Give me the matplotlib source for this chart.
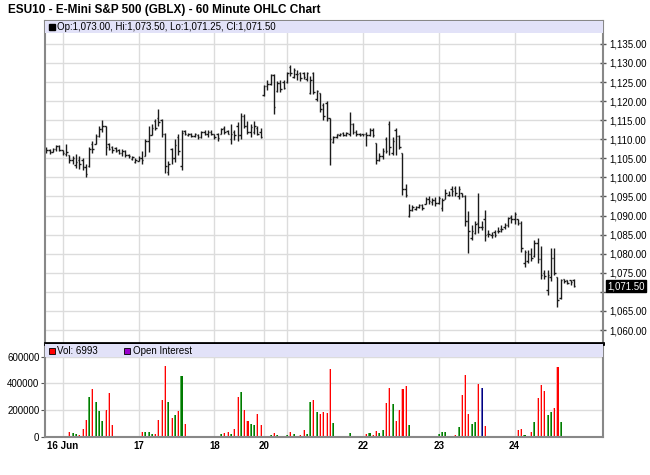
import matplotlib
matplotlib.use("Agg")
import matplotlib.pyplot as plt
import matplotlib.transforms as mtransforms
from matplotlib.patches import Rectangle
import numpy as np

plt.rcParams['font.family'] = ['Liberation Sans', 'DejaVu Sans']

# hourly OHLC bars (ESU10), oldest first
opens = [
    1107.0, 1107.25, 1106.75, 1107.5, 1108.25, 1107.25, 1106.25, 1106.0, 1104.5, 1103.25,
    1104.5, 1104.5, 1102.75, 1103.0, 1108.75, 1108.75, 1110.75, 1112.75, 1113.5, 1108.75,
    1108.0, 1107.75, 1107.25, 1106.5, 1107.0, 1105.75, 1104.75, 1104.0, 1104.25, 1105.0,
    1105.5, 1109.5, 1111.0, 1114.75, 1115.5, 1115.0, 1111.5, 1101.5, 1107.5, 1105.0,
    1110.5, 1103.0, 1112.25, 1111.0, 1111.5, 1110.75, 1111.0, 1110.5, 1112.0, 1111.5,
    1112.0, 1111.25, 1111.5, 1111.5, 1113.0, 1112.25, 1110.0, 1112.0, 1113.5, 1111.0,
    1116.0, 1113.5, 1112.0, 1112.0, 1113.0, 1112.0, 1121.5, 1124.0, 1124.5, 1126.75,
    1122.75, 1124.75, 1125.0, 1125.0, 1129.0, 1126.25, 1127.0, 1127.5, 1127.5, 1125.75,
    1122.0, 1127.5, 1120.5, 1122.0, 1119.0, 1119.5, 1115.5, 1109.25, 1110.5, 1111.0,
    1111.75, 1111.0, 1111.25, 1114.0, 1112.0, 1111.5, 1111.5, 1111.5, 1111.0, 1112.5,
    1109.0, 1104.5, 1105.5, 1110.0, 1114.0, 1106.5, 1112.5, 1110.75, 1106.5, 1097.0,
    1090.0, 1091.5, 1091.75, 1092.25, 1092.75, 1093.0, 1094.25, 1093.5, 1094.0, 1093.25,
    1092.0, 1094.25, 1095.5, 1097.0, 1097.25, 1095.0, 1096.0, 1095.25, 1088.5, 1084.0,
    1085.5, 1088.0, 1087.0, 1089.0, 1085.25, 1085.0, 1085.75, 1086.0, 1086.5, 1087.0,
    1087.5, 1089.5, 1089.0, 1089.0, 1088.0, 1077.5, 1078.0, 1080.0, 1079.5, 1082.75,
    1078.5, 1075.0, 1070.5, 1074.0, 1079.0, 1074.0, 1068.5, 1073.25, 1073.0, 1073.0,
    1073.0,
]
highs = [
    1108.0, 1107.5, 1107.75, 1108.5, 1108.5, 1107.25, 1108.75, 1106.0, 1105.5, 1106.25,
    1105.5, 1105.0, 1103.5, 1108.0, 1109.5, 1111.25, 1113.5, 1115.0, 1113.5, 1109.0,
    1108.25, 1108.0, 1107.5, 1107.5, 1107.25, 1106.25, 1105.5, 1105.0, 1105.5, 1107.0,
    1110.0, 1113.5, 1114.0, 1115.25, 1118.0, 1115.25, 1111.75, 1104.25, 1107.75, 1110.0,
    1111.25, 1112.5, 1112.5, 1111.75, 1111.75, 1111.75, 1111.25, 1112.25, 1112.5, 1112.5,
    1112.5, 1111.5, 1111.75, 1113.0, 1113.5, 1112.5, 1114.0, 1112.5, 1114.5, 1117.0,
    1116.5, 1114.75, 1114.0, 1114.75, 1113.5, 1113.0, 1124.25, 1125.5, 1127.0, 1127.0,
    1125.25, 1125.5, 1125.5, 1127.75, 1129.5, 1128.75, 1128.25, 1127.75, 1127.75, 1127.75,
    1126.5, 1127.75, 1123.0, 1122.0, 1119.5, 1120.0, 1115.5, 1110.75, 1111.5, 1111.75,
    1112.0, 1112.0, 1117.25, 1114.25, 1112.5, 1111.75, 1111.5, 1112.0, 1113.0, 1113.0,
    1109.0, 1106.5, 1107.75, 1110.5, 1114.75, 1110.5, 1113.0, 1111.0, 1106.5, 1098.25,
    1093.0, 1092.75, 1092.5, 1093.0, 1093.0, 1094.75, 1095.0, 1094.5, 1094.75, 1095.0,
    1094.5, 1097.0, 1096.5, 1097.75, 1097.75, 1097.75, 1096.0, 1095.5, 1091.25, 1087.5,
    1088.5, 1096.0, 1088.5, 1091.5, 1086.25, 1085.75, 1086.25, 1087.0, 1087.5, 1088.0,
    1089.75, 1090.25, 1091.0, 1089.0, 1088.5, 1081.0, 1081.0, 1081.5, 1083.5, 1084.0,
    1082.0, 1075.75, 1075.75, 1081.5, 1081.5, 1074.0, 1073.5, 1073.5, 1073.0, 1073.0,
    1073.5,
]
lows = [
    1106.5, 1106.25, 1106.75, 1107.0, 1107.0, 1105.75, 1105.5, 1103.75, 1103.5, 1102.5,
    1102.25, 1102.0, 1100.0, 1102.75, 1106.5, 1108.75, 1110.5, 1112.0, 1106.0, 1107.25,
    1106.5, 1106.75, 1106.25, 1105.5, 1105.25, 1105.0, 1104.5, 1103.75, 1104.25, 1103.5,
    1105.5, 1106.75, 1111.0, 1112.5, 1113.5, 1110.5, 1101.25, 1100.75, 1103.5, 1104.0,
    1106.0, 1102.0, 1111.0, 1110.75, 1110.5, 1110.5, 1110.0, 1110.25, 1111.0, 1110.5,
    1111.0, 1110.0, 1109.5, 1111.25, 1111.5, 1111.25, 1108.75, 1109.75, 1109.5, 1110.0,
    1113.0, 1111.25, 1110.5, 1111.25, 1111.0, 1110.25, 1121.25, 1123.0, 1124.25, 1116.5,
    1122.5, 1122.5, 1123.25, 1124.75, 1126.5, 1126.0, 1125.5, 1125.25, 1125.75, 1125.25,
    1121.75, 1121.75, 1120.0, 1117.25, 1115.0, 1114.75, 1103.25, 1109.0, 1110.25, 1110.75,
    1110.75, 1110.75, 1110.75, 1111.5, 1110.75, 1110.75, 1110.75, 1108.25, 1110.75, 1110.5,
    1103.5, 1104.25, 1104.75, 1106.5, 1106.0, 1106.0, 1106.0, 1107.5, 1095.5, 1094.75,
    1089.5, 1091.25, 1091.5, 1092.0, 1091.5, 1093.0, 1093.0, 1092.75, 1092.5, 1093.0,
    1091.25, 1094.25, 1095.0, 1095.0, 1095.0, 1094.25, 1094.75, 1087.25, 1080.25, 1083.5,
    1085.25, 1085.5, 1086.25, 1083.25, 1084.5, 1084.0, 1084.5, 1085.5, 1085.75, 1086.5,
    1087.0, 1088.0, 1087.75, 1087.5, 1080.5, 1076.5, 1077.5, 1078.0, 1079.25, 1077.5,
    1073.5, 1073.5, 1069.25, 1072.75, 1074.5, 1066.0, 1068.25, 1072.25, 1072.0, 1071.75,
    1071.25,
]
closes = [
    1107.25, 1106.75, 1107.5, 1108.25, 1107.25, 1106.5, 1106.75, 1104.5, 1105.0, 1104.0,
    1103.5, 1102.75, 1101.0, 1107.5, 1107.5, 1110.75, 1112.75, 1113.5, 1108.0, 1107.5,
    1107.25, 1107.0, 1106.5, 1107.0, 1105.75, 1105.5, 1105.25, 1104.5, 1105.0, 1104.5,
    1109.5, 1111.0, 1113.0, 1113.0, 1114.5, 1111.5, 1103.0, 1103.5, 1105.0, 1108.5,
    1107.0, 1111.75, 1111.25, 1111.5, 1110.75, 1111.25, 1110.5, 1112.0, 1111.5, 1112.0,
    1111.25, 1110.5, 1110.25, 1112.75, 1112.0, 1111.5, 1111.5, 1111.0, 1111.0, 1116.0,
    1113.5, 1112.0, 1113.25, 1113.5, 1111.5, 1110.5, 1124.0, 1124.5, 1126.75, 1118.5,
    1124.75, 1123.25, 1123.5, 1127.25, 1127.5, 1128.25, 1127.0, 1126.0, 1126.25, 1127.25,
    1125.5, 1122.5, 1122.75, 1118.0, 1116.0, 1115.5, 1110.0, 1110.5, 1111.25, 1111.5,
    1111.0, 1111.75, 1114.0, 1112.0, 1111.25, 1111.0, 1111.25, 1111.0, 1112.5, 1111.0,
    1104.5, 1105.5, 1107.0, 1107.0, 1108.0, 1109.5, 1110.75, 1108.0, 1097.0, 1095.5,
    1091.5, 1092.25, 1092.25, 1092.75, 1092.0, 1094.25, 1093.75, 1094.0, 1093.25, 1094.5,
    1094.0, 1096.0, 1095.5, 1096.5, 1096.0, 1097.0, 1095.25, 1088.5, 1086.0, 1086.0,
    1087.75, 1087.0, 1087.0, 1085.0, 1085.25, 1085.0, 1085.0, 1086.0, 1086.5, 1087.5,
    1089.25, 1089.0, 1090.5, 1088.0, 1081.5, 1080.5, 1080.0, 1079.0, 1082.75, 1078.5,
    1074.5, 1074.25, 1074.5, 1079.0, 1075.0, 1068.0, 1073.0, 1072.75, 1072.25, 1072.5,
    1071.5,
]
volumes = [
    1500, 1200, 1500, 2000, 2500, 10000, 10000, 37000, 30000, 25000,
    17000, 60000, 129000, 297000, 360000, 258000, 191000, 121000, 203000, 327000,
    92000, 8000, 8000, 8000, 8000, 5000, 5000, 8000, 8000, 37000,
    40000, 40000, 25000, 25000, 129000, 278000, 528000, 260000, 139000, 161000,
    196000, 458000, 99000, 6000, 5000, 5000, 6000, 5000, 4000, 5000,
    6000, 10000, 10000, 22000, 27000, 37000, 25000, 60000, 297000, 335000,
    198000, 121000, 99000, 92000, 169000, 92000, 5000, 5000, 15000, 30000,
    12000, 5000, 5000, 12000, 37000, 22000, 10000, 15000, 55000, 20000,
    263000, 278000, 183000, 175000, 185000, 180000, 505000, 104000, 8000, 5000,
    8000, 8000, 30000, 5000, 5000, 5000, 5000, 22000, 30000, 12000,
    47000, 30000, 55000, 253000, 364000, 245000, 121000, 203000, 362000, 382000,
    92000, 4000, 4000, 5000, 5000, 5000, 5000, 5000, 5000, 22000,
    37000, 37000, 10000, 10000, 12000, 72000, 315000, 461000, 171000, 99000,
    114000, 394000, 369000, 84000, 3000, 3000, 3000, 4000, 4000, 4000,
    4000, 3000, 4000, 55000, 60000, 15000, 10000, 37000, 114000, 293000,
    389000, 340000, 166000, 188000, 216000, 526000, 114000, 3000, 5000, 5000,
    6993,
]

# first bar of each session day
day_starts = [5, 28, 51, 66, 73, 96, 119, 142]
day_labels = ['16 Jun', '17', '18', '20', '', '22', '23', '24']

price_ticks = list(range(1060, 1140, 5))
vol_ticks = [0, 200000, 400000, 600000]

idx = np.arange(len(closes))
o = np.array(opens)
c = np.array(closes)

fig = plt.figure(figsize=(6.5, 4.75), dpi=100)
fig.patch.set_facecolor('white')

ax = fig.add_axes([0.0692, 0.2779, 0.8585, 0.6779])
axv = fig.add_axes([0.0692, 0.08, 0.8585, 0.1958], sharex=ax)

grid_col = '#dcdcdc'
bar_col = '#1a1a1a'

# price panel
ax.vlines(idx, lows, highs, color=bar_col, lw=1.0)
ax.hlines(opens, idx - 0.45, idx, color=bar_col, lw=1.0)
ax.hlines(closes, idx, idx + 0.45, color=bar_col, lw=1.0)

ax.set_xlim(-0.4, 168.8)
ax.set_ylim(1056.6, 1141.0)
ax.set_yticks(price_ticks)
ax.set_yticklabels(['' if t == 1070 else f'{t:,.2f}' for t in price_ticks])
ax.yaxis.tick_right()
ax.tick_params(axis='y', direction='inout', length=5, width=1, color='#555555',
               labelsize=7, pad=2)
ax.tick_params(axis='x', length=0, labelbottom=False)
ax.set_xticks(day_starts)
ax.grid(True, color=grid_col, lw=1)
ax.set_axisbelow(True)
for s in ['left', 'right', 'top']:
    ax.spines[s].set_color('#888888')
    ax.spines[s].set_linewidth(1.5)
ax.spines['bottom'].set_color('black')
ax.spines['bottom'].set_linewidth(2)

# legend band on price panel
ax.add_patch(Rectangle((0, 0.963), 1, 0.037, transform=ax.transAxes,
                       facecolor='#e2e2f8', edgecolor='none', zorder=3))
ax.plot([0.012], [0.9815], marker='s', ms=5, color='black', mec='black',
        transform=ax.transAxes, zorder=4, clip_on=False)
ax.text(0.022, 0.9815, 'Op:1,073.00, Hi:1,073.50, Lo:1,071.25, Cl:1,071.50',
        transform=ax.transAxes, fontsize=7, va='center', ha='left', zorder=4)

# last price tag
trans = mtransforms.blended_transform_factory(ax.transAxes, ax.transData)
ax.text(1.008, closes[-1], f'{closes[-1]:,.2f}', transform=trans, fontsize=7,
        color='white', va='center', ha='left',
        bbox=dict(boxstyle='square,pad=0.12', facecolor='black', edgecolor='black'))

# volume panel
base_cols = np.where(c > o, '#007a00', np.where(c < o, '#ff0000', '#000080'))
light_cols = np.where(c > o, '#55b055', np.where(c < o, '#ffaaaa', '#6666bb'))
axv.bar(idx, volumes, width=0.62, color=base_cols, linewidth=0)
axv.bar(idx - 0.16, volumes, width=0.3, color=light_cols, linewidth=0)

axv.set_ylim(0, 694500)
axv.set_yticks(vol_ticks)
axv.set_yticklabels([str(v) for v in vol_ticks])
axv.tick_params(axis='y', direction='out', length=3, color='#555555', labelsize=7, pad=1)
axv.set_xticks(day_starts)
axv.set_xticklabels(day_labels, fontsize=7, fontweight='bold')
axv.tick_params(axis='x', length=0, pad=3)
axv.grid(True, color=grid_col, lw=1)
axv.set_axisbelow(True)
for s in ['left', 'right', 'bottom']:
    axv.spines[s].set_color('#888888')
    axv.spines[s].set_linewidth(1.5)
axv.spines['top'].set_color('black')
axv.spines['top'].set_linewidth(2)

axv.add_patch(Rectangle((0, 0.86), 1, 0.14, transform=axv.transAxes,
                        facecolor='#e2e2f8', edgecolor='none', zorder=3))
axv.plot([0.012], [0.93], marker='s', ms=5, color='#ff0000', mec='black',
         mew=0.6, transform=axv.transAxes, zorder=4)
axv.text(0.022, 0.93, 'Vol: 6993', transform=axv.transAxes, fontsize=7,
         va='center', ha='left', zorder=4)
axv.plot([0.147], [0.93], marker='s', ms=5, color='#9900cc', mec='black',
         mew=0.6, transform=axv.transAxes, zorder=4)
axv.text(0.157, 0.93, 'Open Interest', transform=axv.transAxes, fontsize=7,
         va='center', ha='left', zorder=4)

fig.text(0.012, 0.979, 'ESU10 - E-Mini S&P 500 (GBLX) - 60 Minute OHLC Chart',
         fontsize=8.5, fontweight='bold', va='center', ha='left')

fig.savefig('out.png', dpi=100)
